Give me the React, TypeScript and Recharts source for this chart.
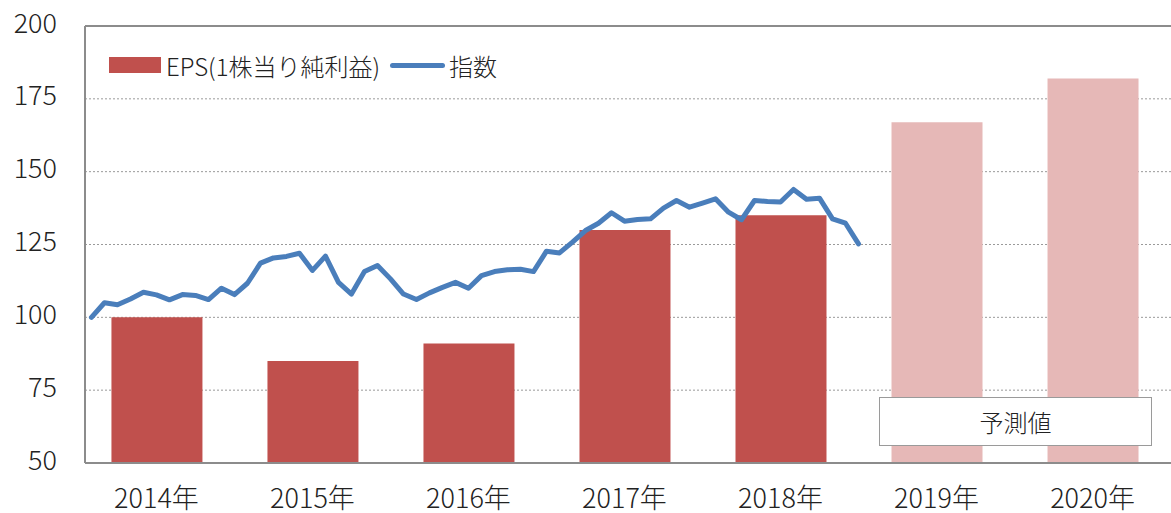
import {
  Bar, CartesianGrid, Cell, ComposedChart, Line, ReferenceLine, XAxis, YAxis,
} from "recharts";

const YEARS = ["2014年", "2015年", "2016年", "2017年", "2018年", "2019年", "2020年"];
const EPS = [100, 85, 91, 130, 135, 167, 182];
const FORECAST = [false, false, false, false, false, true, true];

// monthly index, Jan 2014 .. Dec 2018
const INDEX = [
  100, 105.0, 104.3, 106.3, 108.6, 107.7, 106.0, 107.8, 107.5, 106.1, 110.0, 107.8,
  111.7, 118.6, 120.4, 120.9, 122.0, 116.1, 121.0, 112.0, 108.0, 115.7, 117.8, 113.2,
  108.0, 106.1, 108.4, 110.3, 112.0, 110.0, 114.3, 115.7, 116.3, 116.5, 115.7, 122.7,
  122.1, 125.8, 129.8, 132.3, 135.9, 133.0, 133.6, 133.8, 137.5, 140.1, 137.8, 139.2,
  140.7, 136.1, 133.5, 140.1, 139.8, 139.6, 143.9, 140.5, 140.9, 133.8, 132.3, 125.2,
];

const Y_TICKS = [50, 75, 100, 125, 150, 175, 200];
const X_DOMAIN = [-0.458, 6.503];

const EPS_COLOR = "#c0504d";
const FORECAST_COLOR = "#e6b8b7";
const LINE_COLOR = "#4a7ebb";
const FONT = "'Noto Sans CJK JP', 'Noto Sans', sans-serif";

const barRows = YEARS.map((label, i) => ({ x: i, label, eps: EPS[i] }));
// x measured in years, each month placed in the middle of its slot
const lineRows = INDEX.map((v, i) => ({ x: (i - 5) / 12, idx: v }));

export default function App() {
  return (
    <div style={{ position: "absolute", left: 0, top: 0, width: 1171, height: 513, overflow: "hidden", background: "#fff", fontFamily: FONT, fontWeight: 300 }}>
      <ComposedChart width={1171} height={513} data={barRows} margin={{ top: 26, right: 0, bottom: 0, left: 0 }}>
        <CartesianGrid vertical={false} strokeDasharray="2 2" stroke="#9a9a9a" />
        <XAxis
          dataKey="x"
          type="number"
          domain={X_DOMAIN}
          allowDataOverflow
          ticks={[0, 1, 2, 3, 4, 5, 6]}
          tickFormatter={(v: number) => YEARS[v] ?? ""}
          tick={{ fill: "#222", fontSize: 27, fontFamily: FONT, fontWeight: 300 }}
          tickLine={false}
          tickSize={0}
          tickMargin={26}
          axisLine={{ stroke: "#8c8c8c", strokeWidth: 2 }}
          height={50}
        />
        <XAxis xAxisId="line" dataKey="x" type="number" domain={X_DOMAIN} allowDataOverflow hide />
        <YAxis
          type="number"
          domain={[50, 200]}
          ticks={Y_TICKS}
          allowDataOverflow
          tick={{ fill: "#222", fontSize: 27, fontFamily: FONT, fontWeight: 300, dy: -3 }}
          tickLine={false}
          tickSize={0}
          tickMargin={28}
          axisLine={{ stroke: "#8c8c8c", strokeWidth: 2 }}
          width={85}
        />
        <ReferenceLine y={200} stroke="#8c8c8c" strokeWidth={2} />
        <Bar dataKey="eps" barSize={91} isAnimationActive={false}>
          {barRows.map((r, i) => (
            <Cell key={r.label} fill={FORECAST[i] ? FORECAST_COLOR : EPS_COLOR} />
          ))}
        </Bar>
        <Line
          xAxisId="line"
          data={lineRows}
          dataKey="idx"
          type="linear"
          stroke={LINE_COLOR}
          strokeWidth={5}
          strokeLinejoin="round"
          strokeLinecap="round"
          dot={false}
          activeDot={false}
          isAnimationActive={false}
        />
      </ComposedChart>
      <div
        style={{
          position: "absolute", left: 109, top: 47, height: 36, display: "flex", alignItems: "center",
          fontSize: 24, color: "#222", whiteSpace: "nowrap",
        }}
      >
        <span style={{ width: 52, height: 16, background: EPS_COLOR, display: "inline-block", marginRight: 5 }} />
        <span>EPS(1株当り純利益)</span>
        <span style={{ width: 55, height: 5, borderRadius: 3, background: LINE_COLOR, display: "inline-block", margin: "0 4px 0 10px" }} />
        <span>指数</span>
      </div>
      <div
        style={{
          position: "absolute", left: 879, top: 397, width: 273, height: 49, boxSizing: "border-box",
          border: "1px solid #9a9a9a", background: "#fff", display: "flex", alignItems: "center",
          justifyContent: "center", fontSize: 24, color: "#222",
        }}
      >
        予測値
      </div>
    </div>
  );
}
